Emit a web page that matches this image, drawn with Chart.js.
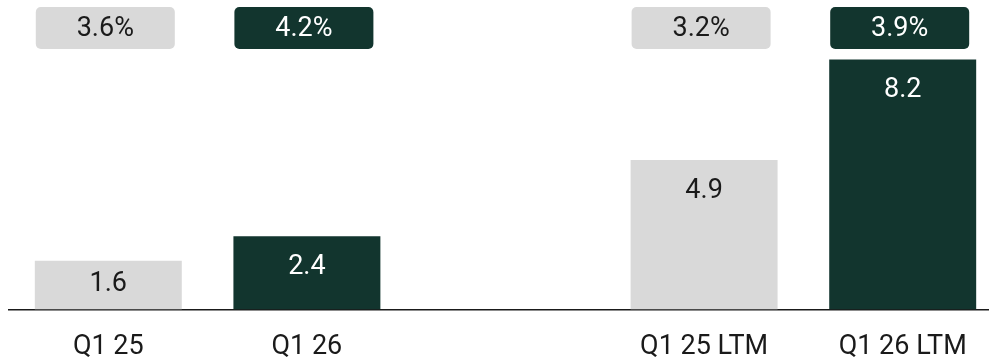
<!DOCTYPE html>
<html>
<head>
<meta charset="utf-8">
<script src="https://cdn.jsdelivr.net/npm/chart.js@4.4.1/dist/chart.umd.min.js"></script>
<style>
  html, body { margin: 0; padding: 0; background: #fff; overflow: hidden; }
  #wrap { width: 989px; height: 361px; overflow: hidden; }
</style>
</head>
<body>
<div id="wrap"><canvas id="myChart" width="1002" height="361"></canvas></div>
<script>
// periods, with an empty slot between the quarter pair and the LTM pair
let labels = ["Q1 25", "Q1 26", "", "Q1 25 LTM", "Q1 26 LTM"];
let values = [1.6, 2.4, null, 4.9, 8.2];
let margins = [3.6, 4.2, null, 3.2, 3.9];

const light = "#d9d9d9";
const dark = "#12352e";
let barColors = [light, dark, light, light, dark];
let textColors = ["#1a1a1a", "#ffffff", "#1a1a1a", "#1a1a1a", "#ffffff"];

// value inside each bar + rounded percentage badge above it
const barLabels = {
    id: 'barLabels',
    afterDatasetsDraw(chart) {
        const ctx = chart.ctx;
        const meta = chart.getDatasetMeta(0);
        ctx.save();
        ctx.textAlign = 'center';
        ctx.textBaseline = 'middle';
        ctx.font = '27px Roboto';
        meta.data.forEach((bar, i) => {
            if (values[i] == null) return;
            let base = bar.base;
            let y = Math.min(bar.y + 31, (bar.y + base) / 2 - 1);
            ctx.fillStyle = textColors[i];
            ctx.fillText(values[i].toFixed(1), bar.x, y);

            // badge
            let w = 139, h = 42, top = 7;
            ctx.fillStyle = barColors[i];
            ctx.beginPath();
            ctx.roundRect(bar.x - w / 2 - 3, top, w, h, 5);
            ctx.fill();
            ctx.fillStyle = textColors[i];
            ctx.fillText(margins[i].toFixed(1) + '%', bar.x - 3, top + h / 2 + 1);
        });
        ctx.restore();
    }
};

const ctx = document.getElementById('myChart').getContext('2d');
const myChart = new Chart(ctx, {
    type: 'bar',
    data: {
        labels: labels,
        datasets: [{
            data: values,
            backgroundColor: barColors,
            borderWidth: 0,
            categoryPercentage: 1,
            barPercentage: 0.74
        }]
    },
    options: {
        responsive: false,
        animation: false,
        layout: { padding: { top: 4.5, left: 9, right: 0, bottom: 0 } },
        plugins: {
            legend: { display: false },
            tooltip: { enabled: false }
        },
        scales: {
            x: {
                grid: { display: false },
                border: { display: true, color: '#1a1a1a', width: 1.5 },
                ticks: {
                    color: '#1a1a1a',
                    font: { family: 'Roboto', size: 27 },
                    padding: 14,
                    maxRotation: 0,
                    autoSkip: false
                },
                afterFit(scale) { scale.height = 51.5; }
            },
            y: {
                display: false,
                min: 0,
                max: 10
            }
        }
    },
    plugins: [barLabels]
});
</script>
</body>
</html>
